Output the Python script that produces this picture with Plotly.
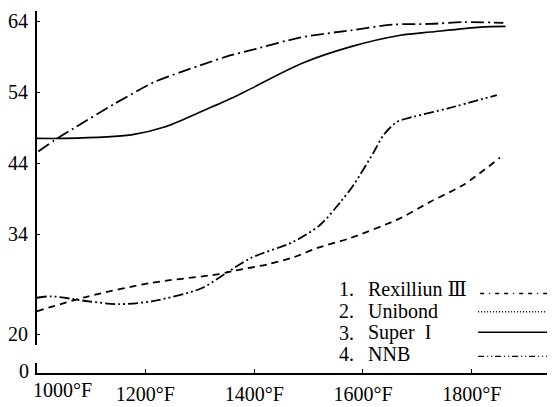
import plotly.graph_objects as go

# ---------------- data ----------------
rex_temp = [1000, 1095, 1211, 1333, 1363, 1425, 1473, 1516, 1577, 1669, 1724, 1785, 1852]
rex_val = [23.2, 25.3, 27.2, 28.4, 28.9, 29.8, 30.8, 32.1, 33.5, 36.3, 38.6, 41.0, 44.8]

uni_temp = [1003, 1034, 1070, 1144, 1217, 1266, 1302, 1357, 1394, 1486, 1578, 1656, 1724, 1785, 1858]
uni_val = [45.65, 47.3, 49.0, 52.4, 55.45, 56.85, 57.8, 59.2, 59.9, 61.7, 62.7, 63.5, 63.6, 63.85, 63.75]

sup_temp = [1000, 1051, 1174, 1235, 1302, 1357, 1394, 1486, 1578, 1669, 1724, 1816, 1862]
sup_val = [47.5, 47.5, 48.0, 49.1, 51.25, 53.1, 54.5, 58.0, 60.4, 62.0, 62.45, 63.15, 63.25]

nnb_temp = [1000, 1027, 1095, 1150, 1211, 1302, 1351, 1394, 1473, 1522, 1559, 1583, 1620, 1638, 1663, 1693, 1755, 1846]
nnb_val = [25.1, 25.3, 24.6, 24.2, 24.6, 26.4, 28.7, 30.7, 33.0, 35.4, 38.6, 41.0, 45.6, 48.0, 49.85, 50.55, 51.7, 53.6]

y_ticks = [20, 34, 44, 54, 64]
x_ticks = [1200, 1400, 1600, 1800]
x_tick_text = ["1200°F", "1400°F", "1600°F", "1800°F"]
first_x_label = "1000°F"

legend_nums = ["1.", "2.", "3.", "4."]
legend_names = ["Rexilliun Ⅲ", "Unibond", "Super  I", "NNB"]

# ---------------- figure ----------------
OFF = 8            # default page margin of the written html page
VS = 0.978         # observed vertical scale of the captured picture
W, H = 555 - OFF, 400
FONT = "Liberation Serif, DejaVu Serif, serif"

def px_x(p):
    return (p - OFF) / W

def px_y(p):
    return (H - (p / VS - OFF)) / H

series = [
    (rex_temp, rex_val, "7px,5px", 1.8),
    (uni_temp, uni_val, "13px,4px,2px,4px", 1.8),
    (sup_temp, sup_val, "solid", 1.6),
    (nnb_temp, nnb_val, "10px,3px,2px,3px,2px,3px", 1.8),
]

fig = go.Figure()
for (t, v, dash, w), name in zip(series, legend_names):
    fig.add_trace(go.Scatter(
        x=t, y=v, mode="lines", name=name,
        line=dict(color="black", width=w, dash=dash, shape="spline", smoothing=0.8),
        showlegend=False, xaxis="x", yaxis="y",
    ))
# empty trace so that the lower (broken-axis) panel with the 0 tick exists
fig.add_trace(go.Scatter(x=[], y=[], mode="lines", showlegend=False,
                         hoverinfo="skip", xaxis="x", yaxis="y2"))

tick_font = dict(family=FONT, size=20, color="black")

fig.update_layout(
    width=W, height=H, autosize=False,
    margin=dict(l=0, r=0, t=0, b=0, pad=0),
    paper_bgcolor="white", plot_bgcolor="white",
    font=dict(family=FONT, size=20, color="black"),
    showlegend=False,
    xaxis=dict(
        domain=[px_x(35.7), 1], range=[1000, 1953], anchor="y2",
        showgrid=False, zeroline=False, showline=True, linecolor="black", linewidth=1.5,
        tickmode="array", tickvals=x_ticks, ticktext=x_tick_text,
        ticks="inside", ticklen=4, tickcolor="black", tickwidth=1.2,
        ticklabelstandoff=2,
        tickfont=tick_font,
    ),
    yaxis=dict(
        domain=[px_y(345), 1], range=[18.4, 65.41], anchor="x",
        showgrid=False, zeroline=False, showline=True, linecolor="black", linewidth=1.5,
        tickmode="array", tickvals=y_ticks,
        ticks="inside", ticklen=4, tickcolor="black", tickwidth=1.2,
        ticklabelstandoff=3,
        tickfont=tick_font,
    ),
    yaxis2=dict(
        domain=[px_y(373), px_y(363)], range=[-0.3, 1.0], anchor="x",
        showgrid=False, zeroline=False, showline=True, linecolor="black", linewidth=1.5,
        tickmode="array", tickvals=[0], ticks="",
        ticklabelstandoff=2,
        tickfont=tick_font,
    ),
)

annotations = [dict(
    x=1000, xref="x", y=px_y(390), yref="paper", text=first_x_label,
    showarrow=False, xanchor="left", yanchor="middle", xshift=-6,
    font=tick_font,
)]

row_text_y = [288, 310.5, 332, 354]
row_line_y = [292.7, 311, 331.7, 356]
row_line_x = [(480, 552), (478, 552), (478, 552), (478, 555)]
row_dash = ["4px,5px,1px,5px,4px,5px", "1px,2px", "solid", "6px,3px,1px,3px,1px,3px"]

shapes = []
for i in range(4):
    annotations.append(dict(
        x=px_x(337), xref="paper", y=px_y(row_text_y[i]), yref="paper",
        text=legend_nums[i], showarrow=False, xanchor="left", yanchor="middle",
        font=tick_font,
    ))
    annotations.append(dict(
        x=px_x(366), xref="paper", y=px_y(row_text_y[i]), yref="paper",
        text=legend_names[i], showarrow=False, xanchor="left", yanchor="middle",
        font=tick_font,
    ))
    x0, x1 = row_line_x[i]
    shapes.append(dict(
        type="line", xref="paper", yref="paper",
        x0=px_x(x0), x1=px_x(x1), y0=px_y(row_line_y[i]), y1=px_y(row_line_y[i]),
        line=dict(color="black", width=1.4, dash=row_dash[i]),
    ))

fig.update_layout(annotations=annotations, shapes=shapes)

fig.write_html("out.html", config={"displayModeBar": False})
